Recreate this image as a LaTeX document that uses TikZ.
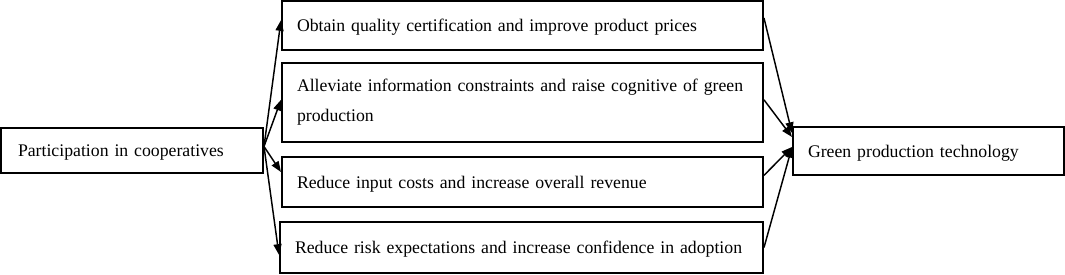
\documentclass[tikz,border=0pt]{standalone}
\usepackage{fontspec}
\setmainfont{Liberation Serif}
\usetikzlibrary{arrows.meta, positioning}

\begin{document}
\begin{tikzpicture}[x=0.75pt, y=-0.75pt, >={Triangle[length=8pt,width=6pt]},
    box/.style={draw, line width=1.5pt, align=left, anchor=north west, inner xsep=11.25pt, inner ysep=0pt,
                text width=338.25pt, font=\fontsize{13.3}{22.5}\selectfont},
    onebox/.style={box, text depth=0pt},
    link/.style={->, line width=1.1pt}]
    \useasboundingbox (0,0) rectangle (1065,275);
    % source and outcome
    \node[onebox, text width=171pt, inner xsep=12.75pt, minimum height=33.75pt] (coop) at (0,127) {Participation in cooperatives};
    \node[onebox, text width=180.75pt, minimum height=36pt] (green) at (792,126) {Green production technology};
    % mechanisms
    \node[onebox, minimum height=36.75pt] (cert) at (281,0) {Obtain quality certification and improve product prices};
    \node[box, minimum height=59.25pt] (info) at (281,62) {Alleviate information constraints and raise cognitive of green\\production};
    \node[onebox, minimum height=37.5pt] (cost) at (281,156) {Reduce input costs and increase overall revenue};
    \node[onebox, text width=339.75pt, minimum height=38.25pt] (risk) at (279,221) {Reduce risk expectations and increase confidence in adoption};
    \coordinate (fork) at ([yshift=3pt]coop.east);
    \draw[link] (fork) -- ([yshift=4pt]cert.west);
    \draw[link] (fork) -- ([yshift=2pt]info.west);
    \draw[link] (fork) -- ([yshift=7.5pt]cost.west);
    \draw[link] (fork) -- ([yshift=-5.5pt]risk.west);
    \draw[link] ([yshift=5.6pt]cert.east) -- ([yshift=13.5pt]green.west);
    \draw[link] ([yshift=2pt]info.east) -- ([yshift=10.5pt]green.west);
    \draw[link] ([yshift=5pt]cost.east) -- ([yshift=3pt]green.west);
    \draw[link] (risk.east) -- ([yshift=3pt]green.west);
\end{tikzpicture}
\end{document}
